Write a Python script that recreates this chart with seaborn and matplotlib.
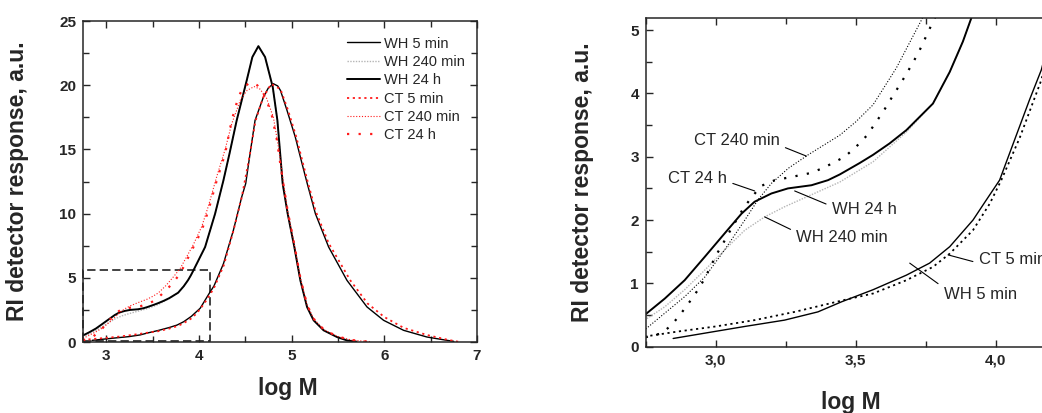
import matplotlib
matplotlib.use("Agg")
import matplotlib.pyplot as plt
import seaborn as sns
import numpy as np
from matplotlib.patches import Rectangle
from matplotlib.ticker import MultipleLocator, FuncFormatter

# ---- data (log M, RI response) ----
wh5_x = [2.848, 2.996, 3.104, 3.246, 3.365, 3.45, 3.562, 3.681, 3.764, 3.836, 3.919, 3.967,
         4.014, 4.062, 4.121, 4.163, 4.265, 4.372, 4.462, 4.505, 4.552, 4.606, 4.696, 4.75,
         4.804, 4.85, 4.88, 4.951, 5.04, 5.113, 5.167, 5.257, 5.40, 5.598, 5.814, 5.993,
         6.209, 6.46, 6.677, 6.75]
wh5_y = [0.13, 0.24, 0.32, 0.42, 0.55, 0.71, 0.90, 1.13, 1.32, 1.58, 2.0, 2.32,
         2.63, 3.2, 3.9, 4.37, 6.1, 8.7, 11.3, 12.34, 14.67, 17.27, 19.08, 19.8,
         20.12, 19.95, 19.6, 18.04, 15.97, 13.9, 12.4, 10.0, 7.4, 4.8, 2.73, 1.69,
         0.91, 0.39, 0.13, 0.05]

ct5_x = [2.746, 2.865, 3.0, 3.139, 3.282, 3.461, 3.562, 3.681, 3.776, 3.836, 3.919, 3.979,
         4.02, 4.086, 4.163, 4.27, 4.37, 4.46, 4.55, 4.61, 4.69, 4.78, 4.88, 4.96,
         5.05, 5.12, 5.17, 5.26, 5.40, 5.634, 5.82, 6.0, 6.21, 6.46, 6.68, 6.80]
ct5_y = [0.16, 0.24, 0.32, 0.42, 0.55, 0.74, 0.84, 1.05, 1.26, 1.47, 1.84, 2.26,
         2.63, 3.3, 4.21, 6.0, 8.6, 11.2, 14.6, 17.2, 19.0, 20.1, 19.7, 18.1,
         16.0, 14.0, 12.6, 10.2, 7.7, 4.8, 3.0, 1.95, 1.1, 0.55, 0.18, 0.02]

wh24_x = [2.746, 2.818, 2.889, 2.961, 3.032, 3.092, 3.139, 3.199, 3.258, 3.342, 3.401, 3.443,
          3.514, 3.562, 3.621, 3.681, 3.776, 3.836, 3.883, 3.913, 3.941, 4.067, 4.175, 4.265,
          4.33, 4.408, 4.516, 4.577, 4.642, 4.714, 4.797, 4.847, 4.904, 4.958, 5.03, 5.095,
          5.167, 5.238, 5.346, 5.49, 5.6, 5.7]
wh24_y = [0.5, 0.76, 1.05, 1.42, 1.79, 2.1, 2.29, 2.42, 2.5, 2.55, 2.63, 2.72,
          2.9, 3.03, 3.21, 3.42, 3.84, 4.34, 4.82, 5.19, 5.58, 7.4, 10.0, 12.6,
          14.67, 17.27, 20.38, 22.2, 23.05, 22.2, 19.86, 17.27, 12.34, 10.0, 7.4, 4.8,
          2.73, 1.69, 0.91, 0.39, 0.12, 0.03]

wh240_x = [2.746, 2.818, 2.889, 2.961, 3.032, 3.104, 3.175, 3.246, 3.342, 3.443, 3.562, 3.681,
           3.776, 3.836, 3.883, 3.913, 3.941, 4.067, 4.175, 4.265, 4.33, 4.408, 4.516, 4.577,
           4.642, 4.714, 4.797, 4.847, 4.904, 4.958, 5.03, 5.095, 5.167, 5.238, 5.346, 5.49, 5.6]
wh240_y = [0.42, 0.63, 0.9, 1.21, 1.53, 1.84, 2.05, 2.21, 2.4, 2.6, 2.92, 3.39,
           3.84, 4.34, 4.82, 5.19, 5.58, 7.4, 10.0, 12.6, 14.67, 17.27, 20.38, 22.2,
           23.0, 22.2, 19.86, 17.27, 12.34, 10.0, 7.4, 4.8, 2.73, 1.69, 0.91, 0.39, 0.12]

ct240_x = [2.75, 2.818, 2.889, 2.961, 3.032, 3.104, 3.151, 3.199, 3.26, 3.33, 3.443, 3.50,
           3.562, 3.645, 3.735, 3.80, 3.941, 4.031, 4.103, 4.193, 4.283, 4.354, 4.45, 4.52,
           4.596, 4.66, 4.73, 4.804, 4.858, 4.9, 4.958, 5.03, 5.095, 5.167, 5.24, 5.35,
           5.5, 5.65, 5.85]
ct240_y = [0.28, 0.53, 0.79, 1.1, 1.53, 2.0, 2.32, 2.58, 2.82, 3.03, 3.34, 3.55,
           3.82, 4.4, 5.16, 5.75, 7.6, 9.0, 10.6, 12.9, 15.0, 17.0, 18.9, 19.6,
           19.9, 19.7, 19.0, 17.5, 15.2, 13.1, 10.2, 7.6, 5.0, 2.9, 1.8, 0.95,
           0.42, 0.15, 0.02]

ct24_x = [2.75, 2.806, 2.842, 2.877, 2.907, 2.937, 2.961, 3.002, 3.026, 3.05, 3.074, 3.098,
          3.13, 3.163, 3.211, 3.27, 3.336, 3.383, 3.461, 3.502, 3.541, 3.57, 3.598, 3.624,
          3.651, 3.676, 3.701, 3.725, 3.744, 3.764, 3.798, 3.941, 4.031, 4.103, 4.193, 4.283,
          4.354, 4.426, 4.48, 4.563, 4.63, 4.70, 4.78, 4.84, 4.89, 4.958, 5.03, 5.095,
          5.167, 5.24, 5.35, 5.5, 5.65, 5.85]
ct24_y = [0.15, 0.21, 0.34, 0.53, 0.71, 0.9, 1.08, 1.45, 1.63, 1.82, 2.0, 2.18,
          2.37, 2.54, 2.63, 2.68, 2.74, 2.82, 3.0, 3.16, 3.34, 3.53, 3.71, 3.9,
          4.09, 4.27, 4.46, 4.65, 4.83, 5.02, 5.33, 7.4, 8.7, 10.26, 12.6, 14.67,
          17.27, 19.08, 19.86, 20.25, 20.0, 19.3, 17.9, 15.8, 13.3, 10.2, 7.6, 5.0,
          2.9, 1.8, 0.95, 0.42, 0.15, 0.02]

labels = ["WH 5 min", "WH 240 min", "WH 24 h", "CT 5 min", "CT 240 min", "CT 24 h"]
series_x = [wh5_x, wh240_x, wh24_x, ct5_x, ct240_x, ct24_x]
series_y = [wh5_y, wh240_y, wh24_y, ct5_y, ct240_y, ct24_y]

# dashed box on the left panel marking the zoomed region
zoom_box = (2.75, 0.08, 4.12, 5.58)

# callouts on the right panel: text, point on curve, text anchor, alignment, relpos
callouts = [
    ("CT 240 min", (3.324, 3.01), (3.228, 3.263), "right", (1.0, 0.15)),
    ("CT 24 h", (3.139, 2.46), (3.040, 2.658), "right", (1.0, 0.3)),
    ("WH 24 h", (3.282, 2.46), (3.415, 2.168), "left", (0.0, 0.7)),
    ("WH 240 min", (3.175, 2.05), (3.288, 1.726), "left", (0.0, 0.85)),
    ("CT 5 min", (3.83, 1.45), (3.940, 1.379), "left", (0.0, 0.25)),
    ("WH 5 min", (3.693, 1.32), (3.814, 0.826), "left", (0.0, 0.95)),
]

# ---- styles ----
sns.set_style("ticks")
plt.rcParams["font.family"] = ["Liberation Sans", "DejaVu Sans"]
plt.rcParams["axes.linewidth"] = 1.1

red = "#ff1a1a"
styles_left = [
    dict(color="black", lw=1.0, linestyle="-"),
    dict(color="#b5b5b5", lw=1.0, linestyle=(0, (1, 1))),
    dict(color="black", lw=1.4, linestyle="-"),
    dict(color=red, lw=1.3, linestyle=(0, (1.2, 2.0))),
    dict(color=red, lw=0.8, linestyle=(0, (1, 1.6))),
    dict(color=red, lw=1.6, linestyle=(0, (1, 4.2))),
]
styles_right = [dict(s) for s in styles_left]
for s in styles_right[3:]:
    s["color"] = "black"

fig = plt.figure(figsize=(10.42, 4.13), dpi=100)
ax1 = fig.add_axes([0.0797, 0.1719, 0.378, 0.777])
ax2 = fig.add_axes([0.6197, 0.1605, 0.403, 0.795])

for xs, ys, lab, st in zip(series_x, series_y, labels, styles_left):
    sns.lineplot(x=xs, y=ys, ax=ax1, label=lab, estimator=None, **st)
for xs, ys, st in zip(series_x, series_y, styles_right):
    sns.lineplot(x=xs, y=ys, ax=ax2, estimator=None, **st)

x0, y0, x1, y1 = zoom_box
ax1.add_patch(Rectangle((x0, y0), x1 - x0, y1 - y0, fill=False, ec="#222222",
                        lw=1.2, linestyle=(0, (5, 2.5)), clip_on=False, zorder=1))

ax1.set_xlim(2.75, 7)
ax1.set_ylim(0, 25)
ax1.xaxis.set_major_locator(MultipleLocator(1))
ax1.xaxis.set_minor_locator(MultipleLocator(0.5))
ax1.yaxis.set_major_locator(MultipleLocator(5))
ax1.yaxis.set_minor_locator(MultipleLocator(2.5))

ax2.set_xlim(2.75, 4.25)
ax2.set_ylim(0, 5.185)
ax2.xaxis.set_major_locator(MultipleLocator(0.5))
ax2.xaxis.set_minor_locator(MultipleLocator(0.25))
ax2.yaxis.set_major_locator(MultipleLocator(1))
ax2.yaxis.set_minor_locator(MultipleLocator(0.5))
ax2.xaxis.set_major_formatter(FuncFormatter(lambda v, p: f"{v:.1f}".replace(".", ",")))
ax2.yaxis.set_major_formatter(FuncFormatter(lambda v, p: f"{v:.0f}"))

for ax in (ax1, ax2):
    ax.tick_params(which="both", direction="in", top=True, right=True,
                   labelsize=11, width=1.0, pad=5)
    ax.tick_params(which="major", length=5)
    ax.tick_params(which="minor", length=4)
    for t in ax.get_xticklabels() + ax.get_yticklabels():
        t.set_fontweight("bold")
    ax.set_xlabel("log M", fontsize=16.5, fontweight="bold")
    ax.set_ylabel("RI detector response, a.u.", fontsize=16.5, fontweight="bold")

ax1.xaxis.set_label_coords(0.52, -0.11)
ax1.yaxis.set_label_coords(-0.138, 0.5)
ax2.xaxis.set_label_coords(0.489, -0.135)
ax2.yaxis.set_label_coords(-0.123, 0.5)

ax1.legend(loc="upper left", bbox_to_anchor=(0.669, 0.952), frameon=False,
           fontsize=10.5, handlelength=2.3, handletextpad=0.3, labelspacing=0.3,
           borderpad=0, borderaxespad=0)

for text, xy, xyt, ha, rp in callouts:
    ax2.annotate(text, xy=xy, xytext=xyt, ha=ha, va="center", fontsize=12,
                 arrowprops=dict(arrowstyle="-", lw=0.8, color="black",
                                 relpos=rp, shrinkA=2, shrinkB=0))

fig.savefig("out.png", dpi=100)
